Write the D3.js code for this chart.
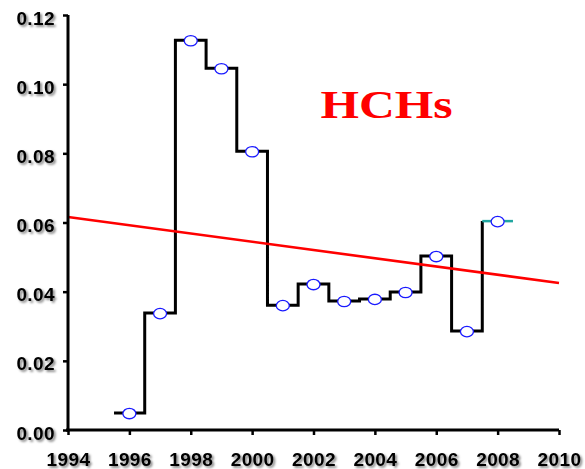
<!DOCTYPE html>
<html>
<head>
<meta charset="utf-8">
<script src="https://cdn.jsdelivr.net/npm/d3@7"></script>
<style>
  html, body { margin: 0; padding: 0; background: #fff; }
  svg { display: block; }
</style>
</head>
<body>
<svg id="chart" width="585" height="469"></svg>
<script>
// Annual HCHs concentrations
const years  = [1996, 1997, 1998, 1999, 2000, 2001, 2002, 2003, 2004, 2005, 2006, 2007, 2008];
const values = [0.0049, 0.0338, 0.1127, 0.1046, 0.0806, 0.0361, 0.0422, 0.0373, 0.0379, 0.0399, 0.0503, 0.0286, 0.0604];

// Linear trend, end points
const trendYears  = [1994, 2010];
const trendValues = [0.0616, 0.0425];

const xTicks = [1994, 1996, 1998, 2000, 2002, 2004, 2006, 2008, 2010];
const yTicks = [0.00, 0.02, 0.04, 0.06, 0.08, 0.10, 0.12];
const title = "HCHs";

const svg = d3.select("#chart");

const defs = svg.append("defs");
const shadow = defs.append("filter").attr("id", "shadow")
  .attr("x", "-20%").attr("y", "-30%").attr("width", "150%").attr("height", "170%");
shadow.append("feDropShadow")
  .attr("dx", 1.8).attr("dy", 1.8).attr("stdDeviation", 1.1)
  .attr("flood-color", "#000").attr("flood-opacity", 0.5);

const x = d3.scaleLinear().domain([1994, 2010]).range([68, 559]);
const y = d3.scaleLinear().domain([0, 0.12]).range([430, 15]);

// Step outline: each year spans half a year on either side
const stepPts = [];
years.forEach((yr, i) => {
  stepPts.push([yr - 0.5, values[i]]);
  stepPts.push([yr + 0.5, values[i]]);
});
const n = years.length;
const blackPts = stepPts.slice(0, 2 * (n - 1) + 1); // through the start of the last year
const line = d3.line().x(d => x(d[0])).y(d => y(d[1]));

svg.append("path")
  .attr("d", line(blackPts))
  .attr("fill", "none").attr("stroke", "#000").attr("stroke-width", 3)
  .attr("stroke-linejoin", "miter");

// Last year in teal
svg.append("path")
  .attr("d", line(stepPts.slice(2 * (n - 1))))
  .attr("fill", "none").attr("stroke", "#1fa6a0").attr("stroke-width", 2.5);

// Trend line
svg.append("path")
  .attr("d", line(trendYears.map((t, i) => [t, trendValues[i]])))
  .attr("fill", "none").attr("stroke", "#ff0000").attr("stroke-width", 2.6);

// Markers
svg.append("g").selectAll("ellipse")
  .data(years)
  .join("ellipse")
  .attr("cx", d => x(d))
  .attr("cy", (d, i) => y(values[i]) + 0.5)
  .attr("rx", 6.5).attr("ry", 5.2)
  .attr("fill", "#fff").attr("stroke", "#1a1aff").attr("stroke-width", 1.3);

// Axes
const xAxis = svg.append("g").attr("transform", "translate(0,430)")
  .call(d3.axisBottom(x).tickValues(xTicks).tickSize(5).tickPadding(18).tickFormat(d3.format("d")));
const yAxis = svg.append("g").attr("transform", "translate(68,0)")
  .call(d3.axisLeft(y).tickValues(yTicks).tickSize(5).tickPadding(8).tickFormat(d3.format(".2f")));

[xAxis, yAxis].forEach(g => {
  g.select(".domain").attr("stroke", "#000").attr("stroke-width", 3);
  g.selectAll(".tick line").attr("stroke", "#000").attr("stroke-width", 2.5);
  g.selectAll(".tick text")
    .attr("fill", "#000")
    .attr("font-family", "Liberation Sans, Arial, sans-serif")
    .attr("font-weight", "bold")
    .attr("font-size", 19)
    .attr("letter-spacing", 0.4)
    .attr("filter", "url(#shadow)");
});
// Remove outer tick stubs from domain paths
xAxis.select(".domain").attr("d", `M${x(1994) - 2},0H${x(2010)}`);
yAxis.select(".domain").attr("d", `M0,${y(0.12)}V${y(0) + 1.5}`);
yAxis.selectAll(".tick text").attr("dy", "0.48em");

// Title (wide serif lettering)
svg.append("text")
  .attr("transform", "translate(386.5,118) scale(1.24,1)")
  .attr("text-anchor", "middle")
  .attr("font-family", "Liberation Serif, Times New Roman, serif")
  .attr("font-weight", "bold")
  .attr("font-size", 40)
  .attr("fill", "#ff0000")
  .text(title);
</script>
</body>
</html>
